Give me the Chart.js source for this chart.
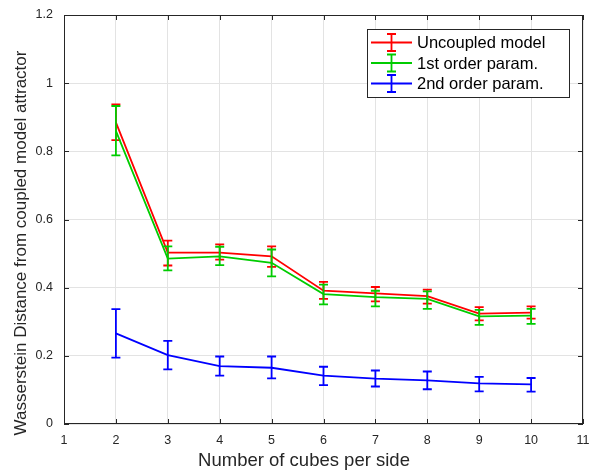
<!DOCTYPE html>
<html lang="en">
<head>
  <meta charset="UTF-8" />
  <title>Wasserstein distance vs cubes per side</title>
  <script src="https://cdn.jsdelivr.net/npm/chart.js"></script>
  <style>
    html, body { margin: 0; padding: 0; background: #fff; }
    #wrap { width: 591px; height: 472px; }
  </style>
</head>
<body>
  <div id="wrap"><canvas id="chart" width="591" height="472"></canvas></div>

  <script>
    // cubes per side
    const cubes = [2, 3, 4, 5, 6, 7, 8, 9, 10];

    // uncoupled model
    const uncoupled     = [0.885, 0.503, 0.503, 0.492, 0.391, 0.383, 0.375, 0.324, 0.327];
    const uncoupledLow  = [0.833, 0.465, 0.482, 0.461, 0.367, 0.360, 0.353, 0.304, 0.309];
    const uncoupledHigh = [0.938, 0.538, 0.527, 0.521, 0.417, 0.402, 0.394, 0.343, 0.345];

    // 1st order parametrisation
    const firstOrder     = [0.860, 0.485, 0.492, 0.473, 0.381, 0.372, 0.367, 0.316, 0.318];
    const firstOrderLow  = [0.788, 0.451, 0.466, 0.433, 0.351, 0.345, 0.338, 0.291, 0.294];
    const firstOrderHigh = [0.933, 0.521, 0.520, 0.512, 0.409, 0.391, 0.389, 0.335, 0.338];

    // 2nd order parametrisation
    const secondOrder     = [0.266, 0.202, 0.170, 0.165, 0.142, 0.133, 0.128, 0.119, 0.116];
    const secondOrderLow  = [0.195, 0.160, 0.142, 0.134, 0.114, 0.110, 0.102, 0.096, 0.095];
    const secondOrderHigh = [0.337, 0.244, 0.198, 0.198, 0.168, 0.157, 0.154, 0.138, 0.135];

    const xTicks = [1, 2, 3, 4, 5, 6, 7, 8, 9, 10, 11];
    const yTicks = [0, 0.2, 0.4, 0.6, 0.8, 1, 1.2];

    const seriesNames = ['Uncoupled model', '1st order param.', '2nd order param.'];
    const seriesColors = ['#ff0000', '#00cc00', '#0000ff'];

    const axisColor = '#262626';
    const fontFamily = '"Liberation Sans", Arial, Helvetica, sans-serif';

    function pts(ys) {
      return cubes.map((c, i) => ({ x: c, y: ys[i] }));
    }

    function makeSet(i, ys, lo, hi, order) {
      return {
        label: seriesNames[i],
        data: pts(ys),
        errLow: lo,
        errHigh: hi,
        borderColor: seriesColors[i],
        backgroundColor: seriesColors[i],
        borderWidth: 1.8,
        pointRadius: 0,
        pointHoverRadius: 0,
        tension: 0,
        fill: false,
        order: order
      };
    }

    // draws the vertical error bars with caps right after each series' line
    const errorBars = {
      id: 'errorBars',
      afterDatasetDraw(chart, args) {
        const ds = chart.data.datasets[args.index];
        const xs = chart.scales.x, ys = chart.scales.y;
        const ctx = chart.ctx;
        ctx.save();
        ctx.strokeStyle = ds.borderColor;
        ctx.lineWidth = 1.8;
        ds.data.forEach((p, i) => {
          const x = xs.getPixelForValue(p.x);
          const y1 = ys.getPixelForValue(ds.errLow[i]);
          const y2 = ys.getPixelForValue(ds.errHigh[i]);
          ctx.beginPath();
          ctx.moveTo(x, y1); ctx.lineTo(x, y2);
          ctx.moveTo(x - 4.5, y1); ctx.lineTo(x + 4.5, y1);
          ctx.moveTo(x - 4.5, y2); ctx.lineTo(x + 4.5, y2);
          ctx.stroke();
        });
        ctx.restore();
      }
    };

    // MATLAB-like box, inward ticks, axis titles and legend
    const frame = {
      id: 'frame',
      afterDraw(chart) {
        const ctx = chart.ctx;
        const a = chart.chartArea;
        const xs = chart.scales.x, ys = chart.scales.y;
        ctx.save();
        ctx.strokeStyle = axisColor;
        ctx.lineWidth = 1;
        ctx.strokeRect(Math.round(a.left) + 0.5, Math.round(a.top) + 0.5,
                       Math.round(a.right - a.left) - 1, Math.round(a.bottom - a.top) - 1);
        ctx.beginPath();
        xTicks.forEach(t => {
          const x = Math.round(xs.getPixelForValue(t)) + 0.5;
          ctx.moveTo(x, a.bottom); ctx.lineTo(x, a.bottom - 5);
          ctx.moveTo(x, a.top); ctx.lineTo(x, a.top + 5);
        });
        yTicks.forEach(t => {
          const y = Math.round(ys.getPixelForValue(t)) + 0.5;
          ctx.moveTo(a.left, y); ctx.lineTo(a.left + 5, y);
          ctx.moveTo(a.right, y); ctx.lineTo(a.right - 5, y);
        });
        ctx.stroke();

        // axis titles
        ctx.fillStyle = axisColor;
        ctx.font = '18.5px ' + fontFamily;
        ctx.textAlign = 'center';
        ctx.textBaseline = 'alphabetic';
        ctx.fillText('Number of cubes per side', 304, 466);
        ctx.save();
        ctx.translate(26, 243);
        ctx.rotate(-Math.PI / 2);
        ctx.font = '17px ' + fontFamily;
        ctx.fillText('Wasserstein Distance from coupled model attractor', 0, 0);
        ctx.restore();

        // legend
        const bx = 367, by = 29, bw = 202, bh = 68;
        ctx.fillStyle = '#fff';
        ctx.fillRect(bx, by, bw, bh);
        ctx.strokeStyle = axisColor;
        ctx.lineWidth = 1;
        ctx.strokeRect(bx + 0.5, by + 0.5, bw, bh);
        const rows = [42.5, 63, 83.5];
        rows.forEach((ry, i) => {
          ctx.strokeStyle = seriesColors[i];
          ctx.lineWidth = 1.8;
          ctx.beginPath();
          ctx.moveTo(371, ry); ctx.lineTo(412, ry);
          ctx.moveTo(391.5, ry - 8.5); ctx.lineTo(391.5, ry + 8.5);
          ctx.moveTo(387, ry - 8.5); ctx.lineTo(396, ry - 8.5);
          ctx.moveTo(387, ry + 8.5); ctx.lineTo(396, ry + 8.5);
          ctx.stroke();
          ctx.fillStyle = '#000';
          ctx.font = '16.5px ' + fontFamily;
          ctx.textAlign = 'left';
          ctx.textBaseline = 'middle';
          ctx.fillText(seriesNames[i], 417, ry + 1);
        });
        ctx.restore();
      }
    };

    new Chart(document.getElementById('chart'), {
      type: 'line',
      data: {
        datasets: [
          makeSet(0, uncoupled, uncoupledLow, uncoupledHigh, 2),
          makeSet(1, firstOrder, firstOrderLow, firstOrderHigh, 1),
          makeSet(2, secondOrder, secondOrderLow, secondOrderHigh, 0)
        ]
      },
      options: {
        responsive: false,
        animation: false,
        events: [],
        layout: { padding: { top: 15, right: 8, left: 0, bottom: 0 } },
        plugins: {
          legend: { display: false },
          title: { display: false },
          tooltip: { enabled: false }
        },
        scales: {
          x: {
            type: 'linear',
            min: 1, max: 11,
            afterFit(s) { s.height = 48; s.paddingLeft = 0; s.paddingRight = 0; },
            afterBuildTicks(s) { s.ticks = xTicks.map(v => ({ value: v })); },
            grid: { color: '#e3e3e3', drawTicks: false },
            border: { display: false },
            ticks: {
              padding: 9,
              color: axisColor,
              font: { family: fontFamily, size: 12.5 },
              maxRotation: 0
            }
          },
          y: {
            min: 0, max: 1.2,
            afterFit(s) { s.width = 64; s.paddingTop = 0; s.paddingBottom = 0; },
            afterBuildTicks(s) { s.ticks = yTicks.map(v => ({ value: v })); },
            grid: { color: '#e3e3e3', drawTicks: false },
            border: { display: false },
            ticks: {
              padding: 11,
              color: axisColor,
              font: { family: fontFamily, size: 12.5 },
              callback: v => String(+v.toFixed(1))
            }
          }
        }
      },
      plugins: [errorBars, frame]
    });
  </script>
</body>
</html>
